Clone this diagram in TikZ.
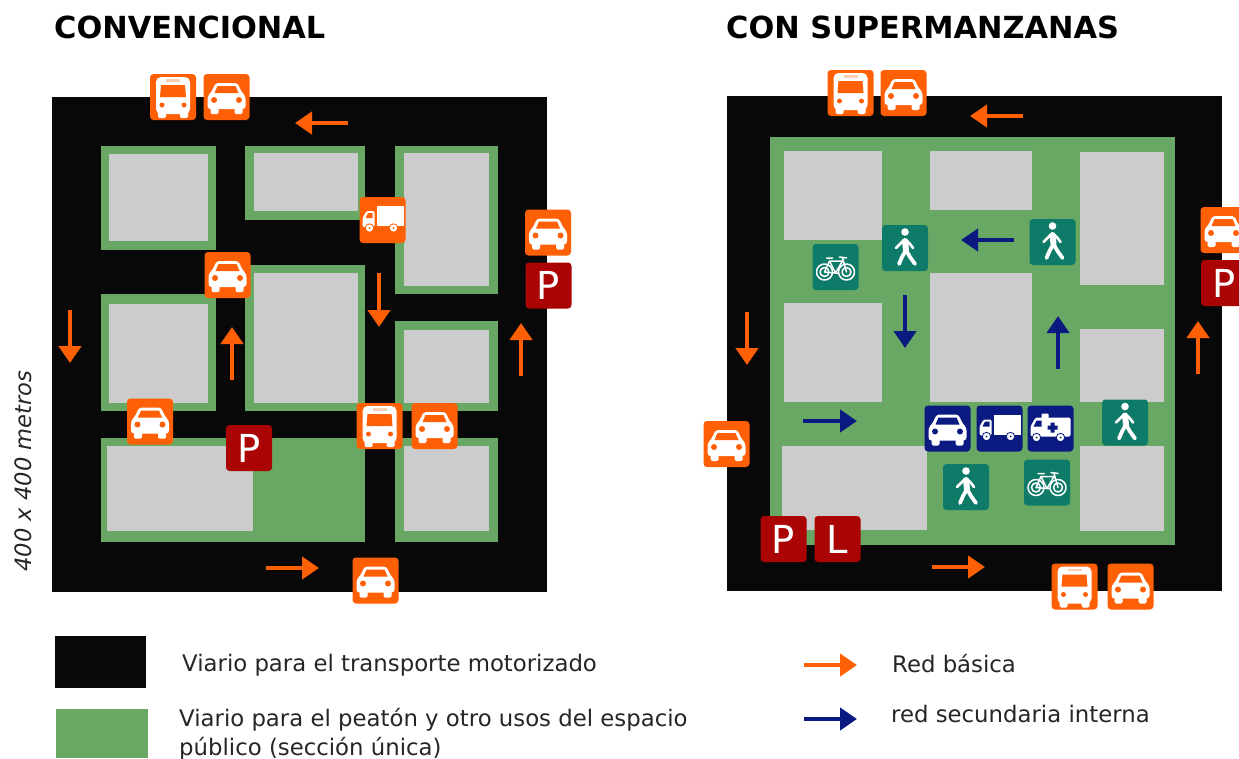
\documentclass[tikz,border=0pt]{standalone}
\usepackage{fontspec}
\setmainfont{DejaVu Sans}
\usetikzlibrary{arrows.meta}
\definecolor{oran}{HTML}{FF5F05}
\definecolor{blk}{HTML}{080808}
\definecolor{grn}{HTML}{69A864}
\definecolor{gry}{HTML}{CCCCCC}
\definecolor{nav}{HTML}{0A1A80}
\definecolor{teal2}{HTML}{0E7A68}
\definecolor{redp}{HTML}{AA0404}
\tikzset{
  x=1pt,y=-1pt,
  oarrow/.style={draw=oran,line width=4.4pt,-{Triangle[length=17pt,width=22pt]}},
  narrow/.style={draw=nav,line width=4.4pt,-{Triangle[length=17pt,width=22pt]}},
  leg/.style={anchor=base west,inner sep=0,font=\fontsize{22.8}{26}\selectfont,text=black!85},
  ttl/.style={anchor=base west,inner sep=0,font=\fontsize{30.4}{34}\selectfont\bfseries,text=black},
  back/.style={fill=#1,rounded corners=3.5pt},
  letterbox/.style={fill=redp,rounded corners=3.5pt,text=white,minimum size=46pt,inner sep=0,font=\fontsize{38.5}{40}\selectfont},
  pics/car/.style={code={
    \fill[back=#1] (-23,-23) rectangle (23,23);
    \fill[white,rounded corners=3pt] (-11,-14) -- (11,-14) -- (15,-5) -- (19,-1) -- (19,12) -- (-19,12) -- (-19,-1) -- (-15,-5) -- cycle;
    \fill[white,rounded corners=1.5pt] (-16,9) rectangle (-8,17) (8,9) rectangle (16,17);
    \fill[#1] (-9,-11) -- (9,-11) -- (12,-4) -- (-12,-4) -- cycle;
    \fill[#1] (-12.5,3) circle (3) (12.5,3) circle (3);
  }},
  pics/bus/.style={code={
    \fill[back=#1] (-23,-23) rectangle (23,23);
    \fill[white,rounded corners=5pt] (-17,-20) rectangle (17,17);
    \fill[white,rounded corners=1.5pt] (-15,14) rectangle (-7,21) (7,14) rectangle (15,21);
    \fill[#1] (-12,-12) -- (12,-12) -- (13,0) -- (-13,0) -- cycle;
    \fill[#1!30!white] (-7,-18) rectangle (7,-15.5);
    \fill[#1] (-11,8) circle (2.5) (11,8) circle (2.5);
  }},
  pics/truck/.style={code={
    \fill[back=#1] (-23,-23) rectangle (23,23);
    \fill[white] (-6,-14) rectangle (21,6);
    \fill[white,rounded corners=1.5pt] (-20,7) -- (-20,-2) -- (-16,-9) -- (-8,-9) -- (-8,7) -- cycle;
    \fill[#1] (-17,-2) -- (-14.5,-7) -- (-10,-7) -- (-10,-2) -- cycle;
    \fill[white,draw=#1,line width=.8pt] (-13,8) circle (4.2) (11,8) circle (4.2);
    \fill[#1] (-13,8) circle (1) (11,8) circle (1);
  }},
  pics/amb/.style={code={
    \fill[back=#1] (-23,-23) rectangle (23,23);
    \fill[white,rounded corners=1.5pt] (-20,8) -- (-20,-2) -- (-15,-11) -- (20,-11) -- (20,8) -- cycle;
    \fill[white,rounded corners=1pt] (-9,-15) rectangle (-2,-10);
    \fill[#1] (-17,-2) -- (-14,-8) -- (-9,-8) -- (-9,-2) -- cycle;
    \fill[#1] (2,-1) +(-5,-2) -- +(-2,-2) -- +(-2,-5) -- +(2,-5) -- +(2,-2) -- +(5,-2) -- +(5,2) -- +(2,2) -- +(2,5) -- +(-2,5) -- +(-2,2) -- +(-5,2) -- cycle;
    \fill[white,draw=#1,line width=.8pt] (-14,9) circle (4.2) (10,9) circle (4.2);
    \fill[#1] (-14,9) circle (1) (10,9) circle (1);
  }},
  pics/ped/.style={code={
    \fill[back=teal2] (-23,-23) rectangle (23,23);
    \fill[white] (0,-16) circle (3.8);
    \draw[white,line width=6pt,line cap=round,line join=round] (0,-7) -- (1,2);
    \draw[white,line width=3.8pt,line cap=round,line join=round] (1,2) -- (-3,9) -- (-6,16) (1,2) -- (5,9) -- (10,16);
    \draw[white,line width=2.6pt,line cap=round,line join=round] (-1,-8) -- (-9,0) (1,-8) -- (5,-4) -- (8,0);
  }},
  pics/bike/.style={code={
    \fill[back=teal2] (-23,-23) rectangle (23,23);
    \draw[white,line width=1.5pt,line cap=round,line join=round] (-11,5) circle (8) (11,5) circle (8) (-11,5) circle (4.5) (11,5) circle (4.5);
    \draw[white,line width=1.5pt,line cap=round,line join=round] (-11,5) -- (-6,-6) -- (7,-6) -- (0,6) -- (-6,-6) (0,6) -- (-11,5) (7,-9) -- (11,5) (4,-10) -- (11,-9) (-9,-9) -- (-3,-9) (0,6)--(3,6);
  }},
}
\newcommand{\blockg}[8]{\fill[grn] (#1,#2) rectangle (#3,#4); \fill[gry] (#5,#6) rectangle (#7,#8);}
\begin{document}
\begin{tikzpicture}
\useasboundingbox (0,0) rectangle (1239,758);
\fill[white] (0,0) rectangle (1239,758);
% titles
\node[ttl] (t1) at (54,38) {CONVENCIONAL};
\node[ttl] (t2) at (726,38) {CON SUPERMANZANAS};
% left map
\fill[blk] (52,97) rectangle (547,592);
\blockg{101}{146}{216}{250}{109}{154}{208}{241}
\blockg{245}{146}{365}{220}{254}{153}{358}{211}
\blockg{395}{146}{498}{294}{404}{153}{489}{286}
\blockg{101}{294}{216}{411}{109}{304}{208}{403}
\blockg{245}{265}{365}{411}{254}{273}{358}{403}
\blockg{395}{321}{498}{411}{404}{330}{489}{403}
\blockg{101}{438}{365}{542}{107}{446}{253}{531}
\blockg{395}{438}{498}{542}{404}{446}{489}{531}
% right map
\fill[blk] (727,96) rectangle (1222,591);
\fill[grn] (770,137) rectangle (1175,545);
\fill[gry] (784,151) rectangle (882,240);
\fill[gry] (930,151) rectangle (1032,210);
\fill[gry] (1080,152) rectangle (1164,285);
\fill[gry] (784,303) rectangle (882,402);
\fill[gry] (930,273) rectangle (1032,402);
\fill[gry] (1080,329) rectangle (1164,402);
\fill[gry] (782,446) rectangle (927,530);
\fill[gry] (1080,446) rectangle (1164,531);
% arrows
\draw[oarrow] (348,123) -- (295,123);
\draw[oarrow] (70,310) -- (70,363);
\draw[oarrow] (232,380) -- (232,327);
\draw[oarrow] (379,273) -- (379,327);
\draw[oarrow] (521,376) -- (521,323);
\draw[oarrow] (266,568) -- (319,568);
\draw[oarrow] (1023,116) -- (970,116);
\draw[oarrow] (747,312) -- (747,365);
\draw[oarrow] (1198,374) -- (1198,321);
\draw[oarrow] (932,567) -- (985,567);
\draw[narrow] (1014,240) -- (961,240);
\draw[narrow] (905,295) -- (905,348);
\draw[narrow] (1058,369) -- (1058,316);
\draw[narrow] (803,421) -- (857,421);
% icons left
\pic at (173,97) {bus=oran};
\pic at (226.5,97) {car=oran};
\pic at (382.5,220) {truck=oran};
\pic at (548,232.5) {car=oran};
\node[letterbox] (p1) at (548.5,285.5) {P};
\pic at (227.5,275) {car=oran};
\pic at (150,421.5) {car=oran};
\node[letterbox] (p2) at (249,448) {P};
\pic at (379.5,426) {bus=oran};
\pic at (434.5,426) {car=oran};
\pic at (375.5,580.5) {car=oran};
% icons right
\pic at (850.5,93) {bus=oran};
\pic at (903.5,93) {car=oran};
\pic at (1223.5,230) {car=oran};
\node[letterbox] (p3) at (1224,283) {P};
\pic at (726.5,444) {car=oran};
\pic at (905,248) {ped};
\pic at (1052.5,242) {ped};
\pic at (835.5,267) {bike};
\pic at (947.5,428.5) {car=nav};
\pic at (999.5,428.5) {truck=nav};
\pic at (1050.5,428.5) {amb=nav};
\pic at (1125,422.5) {ped};
\pic at (966,487) {ped};
\pic at (1047,482.5) {bike};
\node[letterbox] (p4) at (783.5,539) {P};
\node[letterbox] (l1) at (837.5,539) {L};
\pic at (1074.5,586.5) {bus=oran};
\pic at (1130.5,586.5) {car=oran};
% side label
\node[rotate=90,anchor=base,inner sep=0,font=\fontsize{22.6}{26}\selectfont\itshape,text=black!85] (side) at (31,471) {400 x 400 metros};
% legend
\fill[blk] (55,636) rectangle (146,688);
\fill[grn] (56,709) rectangle (148,758);
\node[leg] (l1a) at (182,671) {Viario para el transporte motorizado};
\node[leg] (l2a) at (179,726) {Viario para el peatón y otro usos del espacio};
\node[leg] (l2b) at (179,755) {público (sección única)};
\draw[oarrow] (804,665) -- (857,665);
\draw[narrow] (804,719) -- (857,719);
\node[leg] (l3) at (892,672) {Red básica};
\node[leg] (l4) at (891,722) {red secundaria interna};
\end{tikzpicture}
\end{document}
